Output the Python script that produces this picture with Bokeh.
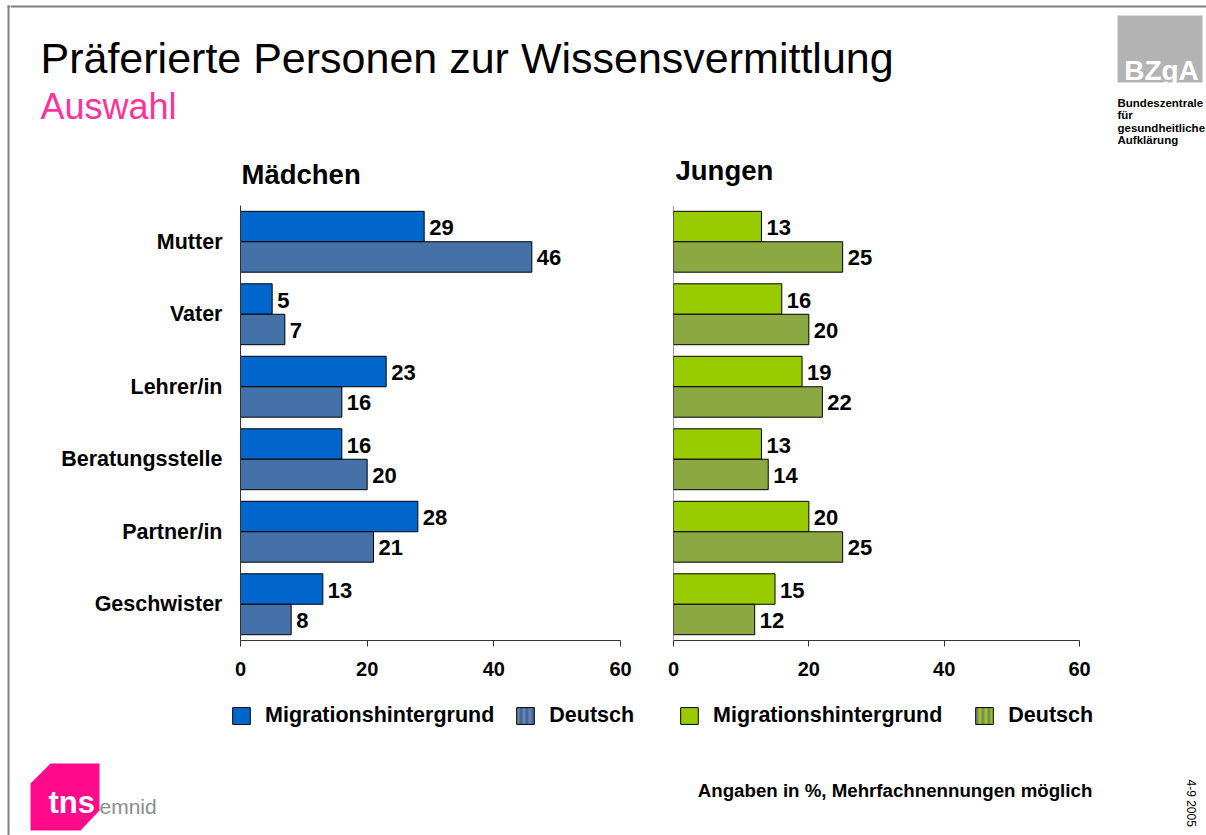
import math
from bokeh.plotting import figure
from bokeh.layouts import column, row
from bokeh.models import (ColumnDataSource, FactorRange, Range1d, Legend, LegendItem,
                          FixedTicker, Span)
from bokeh.transform import dodge
from bokeh.core.properties import value
from bokeh.embed import file_html
from bokeh.resources import INLINE

# ---------------- data ----------------
categories = ["Mutter", "Vater", "Lehrer/in", "Beratungsstelle", "Partner/in", "Geschwister"]
girls_migration = [29, 5, 23, 16, 28, 13]
girls_german = [46, 7, 16, 20, 21, 8]
boys_migration = [13, 16, 19, 13, 20, 15]
boys_german = [25, 20, 22, 14, 25, 12]
series_names = ["Migrationshintergrund", "Deutsch"]
panel_titles = ["Mädchen", "Jungen"]
x_ticks = [0, 20, 40, 60]

main_title = "Präferierte Personen zur Wissensvermittlung"
sub_title = "Auswahl"
bzga_mark = "BZgA"
bzga_lines = ["Bundeszentrale", "für", "gesundheitliche", "Aufklärung"]
tns_mark = "tns"
emnid_mark = "emnid"
footnote = "Angaben in %,  Mehrfachnennungen möglich"
date_code = "4-9 2005"

# ---------------- styles / layout ----------------
FONT = "Liberation Sans"
PAGE_W, PAGE_H = 1206, 835
STRIP_W = 10
HEADER_H = 190
CHART_H = 500
LEGEND_H = 50
FOOTER_H = PAGE_H - HEADER_H - CHART_H - LEGEND_H
LEFT_W = 638
RIGHT_W = PAGE_W - STRIP_W - LEFT_W
FRAME_GREY = "#808080"
AXIS_COLOR = "#333333"


def canvas(w, h, x0, y0):
    """Decoration canvas whose data units equal page pixels."""
    p = figure(width=w, height=h, x_range=Range1d(x0, x0 + w), y_range=Range1d(y0 + h, y0),
               x_axis_type=None, y_axis_type=None, output_backend="svg",
               toolbar_location=None, min_border=0)
    p.outline_line_color = None
    return p


def txt(p, x, y, t, size, color="#000000", style="normal", align="left",
        baseline="middle", angle=0.0):
    p.text(x=x, y=y, text=t, text_font=value(FONT), text_font_size=size,
           text_font_style=style, text_color=color, text_align=align,
           text_baseline=baseline, angle=angle)


# ---------------- left frame strip ----------------
strip = canvas(STRIP_W, PAGE_H, 0, 0)
strip.quad(left=[7], right=[9], top=[5], bottom=[PAGE_H], fill_color=FRAME_GREY, line_color=None)
strip.quad(left=[7], right=[STRIP_W], top=[5], bottom=[7], fill_color=FRAME_GREY, line_color=None)

# ---------------- header (incl. panel titles) ----------------
header = canvas(PAGE_W - STRIP_W, HEADER_H, STRIP_W, 0)
header.quad(left=[STRIP_W], right=[PAGE_W], top=[5], bottom=[7], fill_color=FRAME_GREY, line_color=None)
txt(header, [40], [57], [main_title], "43px")
txt(header, [40], [106], [sub_title], "36px", color="#FF3399")
header.quad(left=[1117], right=[1202], top=[15], bottom=[82], fill_color="#B3B3B3", line_color=None)
txt(header, [1161], [70], [bzga_mark], "28px", color="#FFFFFF", style="bold", align="center")
txt(header, [1117] * 4, [102, 114.5, 127, 139.5], bzga_lines, "11.5px", style="bold")
txt(header, [241, 675], [173.5, 170], panel_titles, "27.5px", style="bold")


# ---------------- charts ----------------
def make_chart(mig, de, c_mig, c_de, width, b_left, b_right, show_cats):
    src = ColumnDataSource(dict(cat=categories, mig=mig, de=de,
                                mig_txt=[str(v) for v in mig],
                                de_txt=[str(v) for v in de]))
    p = figure(width=width, height=CHART_H,
               y_range=FactorRange(factors=categories[::-1]),
               x_range=Range1d(x_ticks[0], x_ticks[-1]),
               output_backend="svg", toolbar_location=None,
               min_border_left=b_left, min_border_right=b_right,
               min_border_top=15, min_border_bottom=50)
    p.outline_line_color = None
    p.grid.visible = False

    p.hbar(y=dodge("cat", 0.21, range=p.y_range), left=0, right="mig",
           height=0.42, source=src, fill_color=c_mig,
           line_color="#000000", line_width=1)
    p.hbar(y=dodge("cat", -0.21, range=p.y_range), left=0, right="de",
           height=0.42, source=src, fill_color=c_de,
           line_color="#000000", line_width=1)

    for col, tcol, off in (("mig", "mig_txt", 0.21), ("de", "de_txt", -0.21)):
        p.text(x=col, y=dodge("cat", off, range=p.y_range), text=tcol, source=src,
               x_offset=5, y_offset=1, text_font=value(FONT), text_font_size="22px",
               text_font_style="bold", text_color="#000000",
               text_align="left", text_baseline="middle")

    xa = p.xaxis[0]
    xa.ticker = FixedTicker(ticks=x_ticks)
    xa.major_tick_out = 6
    xa.major_tick_in = 0
    xa.minor_tick_out = 0
    xa.minor_tick_in = 0
    xa.axis_line_color = AXIS_COLOR
    xa.major_tick_line_color = AXIS_COLOR
    xa.major_label_text_font = FONT
    xa.major_label_text_font_size = "20px"
    xa.major_label_text_font_style = "bold"
    xa.major_label_text_color = "#000000"
    xa.major_label_standoff = 15

    ya = p.yaxis[0]
    if show_cats:
        ya.major_tick_out = 0
        ya.major_tick_in = 0
        ya.axis_line_color = AXIS_COLOR
        ya.major_label_text_font = FONT
        ya.major_label_text_font_style = "bold"
        ya.major_label_text_color = "#000000"
        ya.major_label_standoff = 18
        ya.major_label_text_font_size = "21.5px"
    else:
        ya.visible = False
        p.add_layout(Span(location=x_ticks[0], dimension="height",
                          line_color=AXIS_COLOR, line_width=1))
    return p


def make_legend(width, c_mig, c_swatch, lx, spacing):
    # swatch renderers hold one off-screen box so that the legend draws them
    p = figure(width=width, height=LEGEND_H, x_range=Range1d(0, 1), y_range=Range1d(0, 1),
               x_axis_type=None, y_axis_type=None, output_backend="svg",
               toolbar_location=None, min_border=0)
    p.outline_line_color = None
    p.grid.visible = False
    r_mig = p.quad(left=[5], right=[6], top=[6], bottom=[5], fill_color=c_mig,
                   line_color="#000000", line_width=1)
    r_de = p.quad(left=[5], right=[6], top=[6], bottom=[5], fill_color=c_swatch,
                  hatch_pattern="vertical_line", hatch_color="#808080",
                  hatch_weight=3, hatch_scale=6, line_color="#000000", line_width=1)
    legend = Legend(items=[LegendItem(label=series_names[0], renderers=[r_mig]),
                           LegendItem(label=series_names[1], renderers=[r_de])],
                    location=(lx, 12), orientation="horizontal",
                    glyph_width=22, glyph_height=21, label_standoff=13,
                    spacing=spacing, padding=0, margin=0,
                    border_line_color=None, background_fill_alpha=0,
                    label_text_font=FONT, label_text_font_size="21.5px",
                    label_text_font_style="bold", label_text_color="#000000")
    p.add_layout(legend, "center")
    return p


left = make_chart(girls_migration, girls_german, "#0066CC", "#4472A8",
                  LEFT_W, 240 - STRIP_W, STRIP_W + LEFT_W - 620, True)
right = make_chart(boys_migration, boys_german, "#99CC00", "#8CA842",
                   RIGHT_W, 673 - STRIP_W - LEFT_W, PAGE_W - 1079, False)
left_leg = make_legend(LEFT_W, "#0066CC", "#2B6CC0", 230 - STRIP_W, 20)
right_leg = make_legend(RIGHT_W, "#99CC00", "#99CC00", 678 - STRIP_W - LEFT_W, 31)

# ---------------- footer ----------------
fy0 = HEADER_H + CHART_H + LEGEND_H
footer = canvas(PAGE_W - STRIP_W, FOOTER_H, STRIP_W, fy0)
footer.patch(x=[30, 50, 99, 99, 80, 30], y=[783, 763, 763, 810, 830, 830],
             fill_color="#FF0A8A", line_color=None)
txt(footer, [48], [802], [tns_mark], "31px", color="#FFFFFF", style="bold")
txt(footer, [99], [806], [emnid_mark], "21px", color="#8C8C8C")
txt(footer, [1097], [789.5], [footnote], "18.7px", style="bold", align="right")
txt(footer, [1190], [779], [date_code], "12px", align="left", angle=-math.pi / 2)

layout = row(strip,
             column(header, row(left, right), row(left_leg, right_leg), footer),
             spacing=0)

open("out.html", "w").write(file_html(layout, INLINE))
